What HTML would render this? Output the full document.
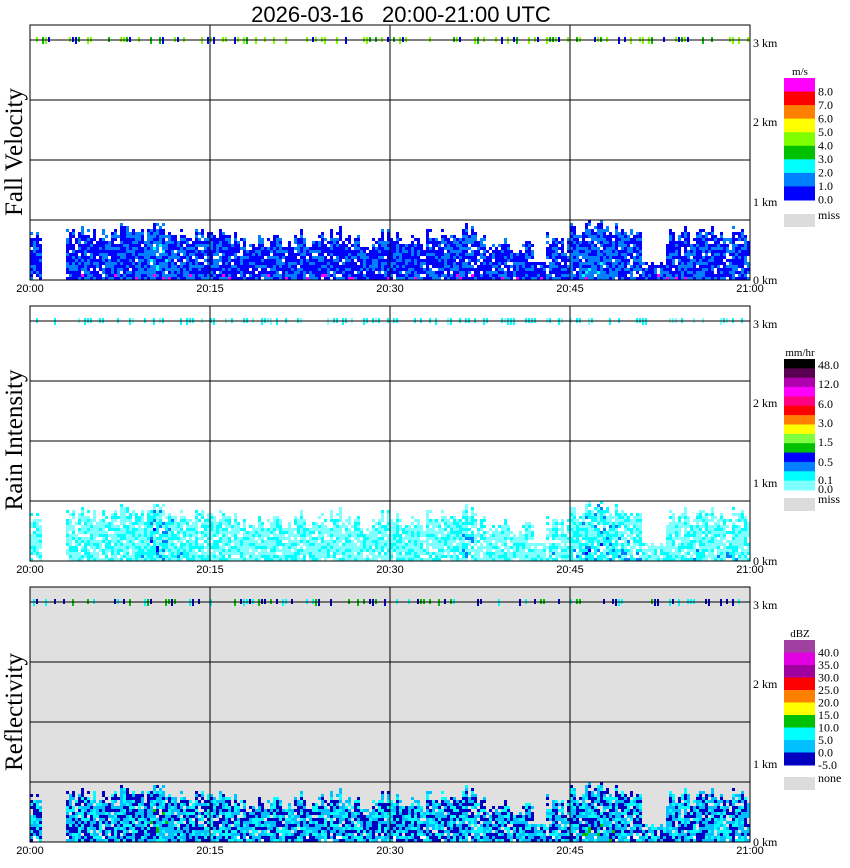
<!DOCTYPE html>
<html><head><meta charset="utf-8"><style>
html,body{margin:0;padding:0;background:#fff;}
svg{display:block;}
</style></head><body>
<svg id="c" width="850" height="868" xmlns="http://www.w3.org/2000/svg">
<text x="401" y="22" text-anchor="middle" font-family="Liberation Sans, sans-serif" font-size="22" style="white-space:pre">2026-03-16   20:00-21:00 UTC</text>
</svg>
<script>
// minute index 0..59 from 20:00
const minutes = Array.from({length:60},(_,i)=>i);
// echo top heights (km) per minute
const echoTop = [0.62,0,0,0.62,0.65,0.62,0.65,0.68,0.68,0.68,0.72,0.68,0.65,0.62,0.68,0.68,0.65,0.6,0.5,0.56,0.56,0.5,0.65,0.5,0.62,0.65,0.56,0.56,0.5,0.62,0.6,0.56,0.56,0.6,0.65,0.56,0.68,0.62,0.44,0.5,0.38,0.5,0.25,0.6,0.5,0.68,0.72,0.72,0.68,0.72,0.65,0.25,0.25,0.62,0.65,0.62,0.65,0.62,0.65,0.62];
// relative intensity per minute (0..1)
const intensity = [0.2,0,0,0.2,0.3,0.3,0.4,0.4,0.3,0.5,0.9,0.8,0.5,0.3,0.4,0.4,0.3,0.3,0.2,0.3,0.5,0.3,0.3,0.2,0.3,0.3,0.2,0.2,0.2,0.3,0.3,0.3,0.2,0.3,0.4,0.3,0.6,0.3,0.2,0.3,0.2,0.3,0.2,0.5,0.3,0.6,0.8,0.8,0.7,0.6,0.5,0.3,0.3,0.4,0.4,0.5,0.4,0.5,0.5,0.4];
const kmTicks = [0,1,2,3];
const timeTicks = ["20:00","20:15","20:30","20:45","21:00"];
const panelTitles = ["Fall Velocity","Rain Intensity","Reflectivity"];
const velColors = ["#ff00ff","#ff0000","#ff8000","#ffff00","#80ff00","#00c000","#00ffff","#0080ff","#0000ff"];
const velLabels = ["8.0","7.0","6.0","5.0","4.0","3.0","2.0","1.0","0.0"];
const rainColors = ["#000000","#5a0050","#b000b0","#ff00ff","#ff0080","#ff0000","#ff8000","#ffff00","#80ff40","#00c000","#0000ff","#0080ff","#00ffff","#80ffff"];
const rainLabels = ["48.0","12.0","6.0","3.0","1.5","0.5","0.1","0.0"];
const dbzColors = ["#a040a0","#e000e0","#a000a0","#ff0000","#ff8000","#ffff00","#00c000","#00ffff","#00c0ff","#0000c0"];
const dbzLabels = ["40.0","35.0","30.0","25.0","20.0","15.0","10.0","5.0","0.0","-5.0"];

const svg=document.getElementById('c');
const NS='http://www.w3.org/2000/svg';
const X0=30,X1=750,PH=255;
const panelTops=[25,306,587];
function xScale(m){return X0+(X1-X0)*m/60;}
function yScale(km,top){return top+255-km*80;}
function mk(tag,attrs,parent){const e=document.createElementNS(NS,tag);for(const k in attrs)e.setAttribute(k,attrs[k]);(parent||svg).appendChild(e);return e;}
// deterministic texture hash (0..99), used only for cell texture
function hs(a,b,c){
  let h=(Math.imul(a+1,374761393)+Math.imul(b+7,668265263)+Math.imul(c+13,2246822519))|0;
  h=Math.imul(h^(h>>>13),1274126177);
  h=(h^(h>>>16))>>>0;
  return h%100;
}

const palettes=[
  {cols:["#0000ff","#0080ff","#00ffff","#ff00ff"],top:["#00c000","#80ff00","#80ff00","#0000ff"],bg:"#fff"},
  {cols:["#80ffff","#00ffff","#0080ff","#0000ff"],top:["#00ffff","#00ffff","#80ffff","#00ffff"],bg:"#fff"},
  {cols:["#0000c0","#00c0ff","#00ffff","#00c000"],top:["#00c000","#00ffff","#00c000","#0000c0"],bg:"#e0e0e0"}
];

panelTops.forEach((top,p)=>{
  const g=mk('g',{},svg);
  
  
  mk('rect',{x:X0,y:top,width:X1-X0,height:PH,fill:palettes[p].bg},g);
  const cells=mk('g',{},g);
  
  
  minutes.forEach(i=>{
    const h=echoTop[i]; if(h<=0) return;
    for(let s=0;s<4;s++){
      const x=xScale(i)+s*3;
      const hh=Math.max(0,h*80*(0.82+hs(i,s,7)/100*0.28));
      const rows=Math.floor(hh/3);
      if(p===2){
        mk('rect',{x:x,y:yScale(0,top)-6,width:3,height:6,fill:'#fff'},cells);
      }
      for(let r=0;r<rows;r++){
        const q=hs(i,s,r);
        const holeP = (p===1?14:(p===2?8:7)) + (r>rows-3?18:0);
        if(q<holeP) continue;
        const v=intensity[i]*(1-r/rows*0.5);
        const q2=hs(i+101,s+3,r+5);
        let ci=0;
        if(p===0){ ci = q2 < 25+v*50 ? 1 : 0; if(v>0.6&&q2>92)ci=2; if(r<2&&q2%17===0)ci=3; }
        else if(p===1){ ci = q2 < 25+v*40 ? 1 : 0; if(v>0.45&&q2>82)ci=2; if(v>0.65&&q2>93)ci=3; }
        else { ci = q2<42-v*20?0:(q2<75?1:2); if(v>0.6&&q2>90&&r<rows*0.6)ci=3; }
        mk('rect',{x:x,y:yScale(0,top)-(r+1)*3,width:3,height:3,fill:palettes[p].cols[ci]},cells);
      }
    }
  });
  // 3 km dotted echo line
  for(let k=0;k<240;k++){
    const q=hs(k,p,3);
    if(q<40){
      mk('rect',{x:xScale(k/4),y:yScale(3,top)-3,width:2,height:q<12?7:5,fill:palettes[p].top[q%4]},g);
    }
  }
  [0.75,1.5,2.25,3].forEach(km=>mk('line',{x1:X0,x2:X1,y1:yScale(km,top),y2:yScale(km,top),stroke:'#000','stroke-width':1},g));
  [15,30,45].forEach(m=>mk('line',{x1:xScale(m),x2:xScale(m),y1:top,y2:top+PH,stroke:'#000','stroke-width':1},g));
  mk('rect',{x:X0,y:top,width:X1-X0,height:PH,fill:'none',stroke:'#000','stroke-width':1},g);
  kmTicks.forEach(km=>{
    const yy=[280,202,122,43][km]-25+top;
    const t=mk('text',{x:753,y:yy+4,'font-family':'Liberation Serif, serif','font-size':12},g);
    t.textContent=km+' km';
    
    
  });
  timeTicks.forEach((lab,j)=>{
    const t=mk('text',{x:xScale(j*15),y:top+PH+12,'text-anchor':'middle','font-family':'Liberation Sans, sans-serif','font-size':11},g);
    t.textContent=lab;
    
    
  });
  const cy=[152,440,712][p];
  const tt=mk('text',{x:22,y:cy,'text-anchor':'middle','font-family':'Liberation Serif, serif','font-size':25,transform:'rotate(-90 22 '+cy+')'},g);
  tt.textContent=panelTitles[p];
  
  
});

function legend(colors,labels,top,bottom,unit,missLab,missY,labelYs){
  const g=mk('g',{},svg);
  
  
  const bh=(bottom-top)/colors.length;
  colors.forEach((c,i)=>mk('rect',{x:784,y:top+i*bh,width:31,height:bh+0.5,fill:c},g));
  const u=mk('text',{x:800,y:top-3,'text-anchor':'middle','font-family':'Liberation Serif, serif','font-size':11},g);u.textContent=unit;
  labels.forEach((l,i)=>{const t=mk('text',{x:818,y:labelYs[i]+4,'font-family':'Liberation Serif, serif','font-size':12},g);t.textContent=l;});
  mk('rect',{x:784,y:missY,width:31,height:13,fill:'#dcdcdc'},g);
  const m=mk('text',{x:818,y:missY+5,'font-family':'Liberation Serif, serif','font-size':12},g);m.textContent=missLab;
}
legend(velColors,velLabels,78,200,'m/s','miss',214,velLabels.map((_,i)=>91.5+i*13.5));
legend(rainColors,rainLabels,359,490,'mm/hr','miss',498,[365,384,404,423,442,462,480,489]);
legend(dbzColors,dbzLabels,640,765,'dBZ','none',777,dbzLabels.map((_,i)=>652.5+i*12.5));
</script>
</body></html>
